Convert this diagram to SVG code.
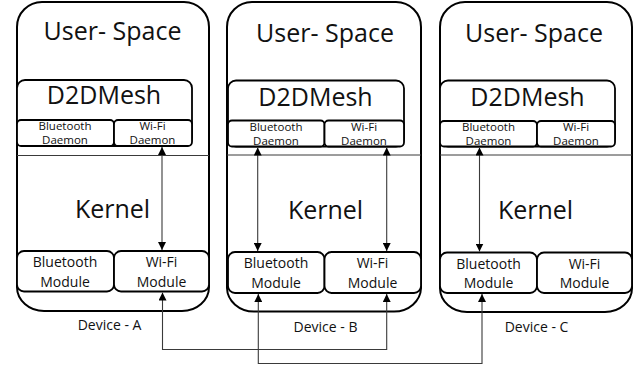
<svg xmlns="http://www.w3.org/2000/svg" width="641" height="367" viewBox="0 0 641 367">
  <style>
    .shell { fill: #ffffff; stroke: #000; stroke-width: 2; }
    .box { fill: #ffffff; stroke: #000; stroke-width: 1.8; }
    .sep { stroke: #3a3a3a; stroke-width: 1; }
    text { font-family: "Open Sans", "Noto Sans", sans-serif; fill: #111; text-anchor: middle; }
    .t-big { font-size: 25px; }
    .t-kernel { font-size: 25px; }
    .t-daemon { font-size: 11.5px; }
    .t-mod { font-size: 14px; }
    .t-dev { font-size: 14px; }
    .link { fill: none; stroke: #3a3a3a; stroke-width: 1.1; }
  </style>
  <defs>
    <marker id="head" viewBox="0 0 8 8" refX="8" refY="4" markerWidth="8" markerHeight="8" markerUnits="userSpaceOnUse" orient="auto-start-reverse">
      <path d="M0,0 L8,4 L0,8 Z" fill="#000"/>
    </marker>
  </defs>

  <rect width="641" height="367" fill="#ffffff"/>

  <!-- Device A -->
  <g id="device-a">
    <path class="shell" d="M42,2 H184 A25,25 0 0 1 209,27 V287 A27,24 0 0 1 182,311 H44 A27,24 0 0 1 17,287 V27 A25,25 0 0 1 42,2 Z"/>
    <line class="sep" x1="17" y1="155.5" x2="209" y2="155.5"/>
    <text class="t-big" x="112.5" y="40">User- Space</text>
    <g id="a-d2dmesh">
      <rect class="box" x="17" y="80" width="175" height="66" rx="8"/>
      <text class="t-big" x="104" y="104">D2DMesh</text>
    </g>
    <g id="a-bt-daemon">
      <rect class="box" x="17" y="120" width="97" height="26" rx="4"/>
      <text class="t-daemon" x="65" y="130">Bluetooth</text>
      <text class="t-daemon" x="65" y="144">Daemon</text>
    </g>
    <g id="a-wifi-daemon">
      <rect class="box" x="114" y="120" width="78" height="26" rx="4"/>
      <text class="t-daemon" x="152.5" y="130">Wi-Fi</text>
      <text class="t-daemon" x="152.5" y="144">Daemon</text>
    </g>
    <text class="t-kernel" x="112.5" y="218">Kernel</text>
    <g id="a-bt-module">
      <rect class="box" x="17" y="251" width="97" height="40.5" rx="7"/>
      <text class="t-mod" x="65" y="267">Bluetooth</text>
      <text class="t-mod" x="65" y="286.5">Module</text>
    </g>
    <g id="a-wifi-module">
      <rect class="box" x="114" y="251" width="95" height="40.5" rx="7"/>
      <text class="t-mod" x="161.5" y="267">Wi-Fi</text>
      <text class="t-mod" x="161.5" y="286.5">Module</text>
    </g>
    <text class="t-dev" x="109.5" y="330">Device - A</text>
  </g>

  <!-- Device B -->
  <g id="device-b">
    <path class="shell" d="M252,2 H396 A25,25 0 0 1 421,27 V288 A27,24 0 0 1 394,311.5 H254 A27,24 0 0 1 227,288 V27 A25,25 0 0 1 252,2 Z"/>
    <line class="sep" x1="227" y1="155" x2="421" y2="155"/>
    <text class="t-big" x="325" y="42">User- Space</text>
    <g id="b-d2dmesh">
      <rect class="box" x="228" y="80.5" width="176" height="66" rx="8"/>
      <text class="t-big" x="315.5" y="106">D2DMesh</text>
    </g>
    <g id="b-bt-daemon">
      <rect class="box" x="228" y="120.5" width="96.5" height="26" rx="4"/>
      <text class="t-daemon" x="276" y="130.5">Bluetooth</text>
      <text class="t-daemon" x="276" y="144.5">Daemon</text>
    </g>
    <g id="b-wifi-daemon">
      <rect class="box" x="324.5" y="120.5" width="79.5" height="26" rx="4"/>
      <text class="t-daemon" x="364" y="130.5">Wi-Fi</text>
      <text class="t-daemon" x="364" y="144.5">Daemon</text>
    </g>
    <text class="t-kernel" x="325.5" y="219">Kernel</text>
    <g id="b-bt-module">
      <rect class="box" x="228" y="252" width="96.5" height="41" rx="7"/>
      <text class="t-mod" x="276" y="268">Bluetooth</text>
      <text class="t-mod" x="276" y="287.5">Module</text>
    </g>
    <g id="b-wifi-module">
      <rect class="box" x="324.5" y="252" width="96.5" height="41" rx="7"/>
      <text class="t-mod" x="372.5" y="268">Wi-Fi</text>
      <text class="t-mod" x="372.5" y="287.5">Module</text>
    </g>
    <text class="t-dev" x="325.5" y="332">Device - B</text>
  </g>

  <!-- Device C -->
  <g id="device-c">
    <path class="shell" d="M465,2 H607 A25,25 0 0 1 632,27 V288 A27,24 0 0 1 605,312 H467 A27,24 0 0 1 440,288 V27 A25,25 0 0 1 465,2 Z"/>
    <line class="sep" x1="440" y1="155" x2="632" y2="155"/>
    <text class="t-big" x="534" y="42">User- Space</text>
    <g id="c-d2dmesh">
      <rect class="box" x="440" y="80.5" width="175" height="66" rx="8"/>
      <text class="t-big" x="527.5" y="106">D2DMesh</text>
    </g>
    <g id="c-bt-daemon">
      <rect class="box" x="440" y="121" width="97" height="25.5" rx="4"/>
      <text class="t-daemon" x="488.5" y="130.5">Bluetooth</text>
      <text class="t-daemon" x="488.5" y="144.5">Daemon</text>
    </g>
    <g id="c-wifi-daemon">
      <rect class="box" x="537" y="121" width="78" height="25.5" rx="4"/>
      <text class="t-daemon" x="576" y="130.5">Wi-Fi</text>
      <text class="t-daemon" x="576" y="144.5">Daemon</text>
    </g>
    <text class="t-kernel" x="535.5" y="219">Kernel</text>
    <g id="c-bt-module">
      <rect class="box" x="440" y="252.5" width="97" height="40.5" rx="7"/>
      <text class="t-mod" x="488.5" y="268.5">Bluetooth</text>
      <text class="t-mod" x="488.5" y="288">Module</text>
    </g>
    <g id="c-wifi-module">
      <rect class="box" x="537" y="252.5" width="95" height="40.5" rx="7"/>
      <text class="t-mod" x="584.5" y="268.5">Wi-Fi</text>
      <text class="t-mod" x="584.5" y="288">Module</text>
    </g>
    <text class="t-dev" x="536.5" y="332">Device - C</text>
  </g>

  <!-- Connectors -->
  <g id="connectors">
    <!-- daemon to module, inside each device -->
    <line class="link" x1="162" y1="147" x2="162" y2="250" marker-start="url(#head)" marker-end="url(#head)"/>
    <line class="link" x1="257.7" y1="147.5" x2="257.7" y2="251" marker-start="url(#head)" marker-end="url(#head)"/>
    <line class="link" x1="386.7" y1="147.5" x2="386.7" y2="251" marker-start="url(#head)" marker-end="url(#head)"/>
    <line class="link" x1="479.5" y1="147.5" x2="479.5" y2="251.5" marker-start="url(#head)" marker-end="url(#head)"/>
    <!-- Wi-Fi link A <-> B -->
    <path class="link" d="M162.5,292.5 V349.5 H386.7 V294" marker-start="url(#head)" marker-end="url(#head)"/>
    <!-- Bluetooth link B <-> C -->
    <path class="link" d="M258.3,294 V363.5 H482 V294" marker-start="url(#head)" marker-end="url(#head)"/>
  </g>
</svg>
